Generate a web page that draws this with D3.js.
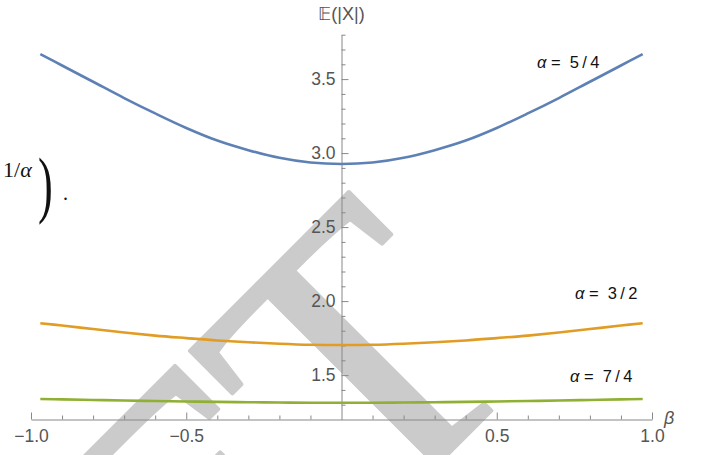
<!DOCTYPE html>
<html>
<head>
<meta charset="utf-8">
<script src="https://cdn.jsdelivr.net/npm/d3@7"></script>
<style>
  body { margin: 0; background: #fff; }
  svg { display: block; }
</style>
</head>
<body>
<div class="chart"></div>
<script>
// beta values and E(|X|)
const betas = [-0.97, -0.9, -0.8, -0.7, -0.6, -0.5, -0.4, -0.3, -0.2, -0.1, 0,
               0.1, 0.2, 0.3, 0.4, 0.5, 0.6, 0.7, 0.8, 0.9, 0.97];
const alpha54 = [3.669, 3.592, 3.482, 3.372, 3.268, 3.170, 3.085, 3.020, 2.968, 2.936, 2.926,
                 2.936, 2.968, 3.020, 3.085, 3.170, 3.268, 3.372, 3.482, 3.592, 3.669];
const alpha32 = [1.850, 1.835, 1.811, 1.788, 1.767, 1.750, 1.734, 1.722, 1.712, 1.705, 1.703,
                 1.705, 1.712, 1.722, 1.734, 1.750, 1.767, 1.788, 1.811, 1.835, 1.850];
const alpha74 = [1.339, 1.336, 1.332, 1.328, 1.325, 1.322, 1.319, 1.317, 1.315, 1.313, 1.313,
                 1.313, 1.315, 1.317, 1.319, 1.322, 1.325, 1.328, 1.332, 1.336, 1.339];
const seriesNames = ["5/4", "3/2", "7/4"];
const seriesColors = ["#5e81b5", "#e19c24", "#8fb032"];
const xMajor = [-1.0, -0.5, 0.5, 1.0];
const yMajor = [1.5, 2.0, 2.5, 3.0, 3.5];

const W = 709, H = 455;

const svg = d3.select(".chart").append("svg")
  .attr("width", W)
  .attr("height", H)
  .style("font-family", "'Liberation Sans', Arial, sans-serif");

svg.append("rect").attr("width", W).attr("height", H).attr("fill", "#fff");

// watermark behind the plot
svg.append("text")
  .attr("transform", "translate(534,368) rotate(-45)")
  .attr("text-anchor", "end")
  .attr("font-family", "'Liberation Serif', 'Times New Roman', serif")
  .attr("font-size", 390)
  .attr("fill", "#cbcbcb")
  .attr("stroke", "#cbcbcb")
  .attr("stroke-width", 4)
  .attr("stroke-linejoin", "round")
  .text("DRAFT");

// fragment of the surrounding page text
const frag = svg.append("g")
  .attr("font-family", "'Liberation Serif', 'Times New Roman', serif")
  .attr("fill", "#111");
frag.append("text").attr("x", 3).attr("y", 177).attr("font-size", 22)
  .call(t => {
    t.append("tspan").text("1/");
    t.append("tspan").attr("font-style", "italic").text("α");
  });
frag.append("text")
  .attr("transform", "translate(38,209) scale(0.6,1)")
  .attr("font-size", 74)
  .text(")");
frag.append("text").attr("x", 63).attr("y", 200).attr("font-size", 20).text(".");

const xScale = d3.scaleLinear().domain([-1, 1]).range([31, 652]);
const yScale = d3.scaleLinear().domain([1.2, 3.8]).range([419.5, 34.7]);

const f = d3.format(".1f");
const axisColor = "#888";
const labelColor = "#555";

// minor ticks
const xMinor = d3.range(-10, 11).map(i => i / 10).filter(v => Math.abs(v * 2 - Math.round(v * 2)) > 1e-6);
const yMinor = d3.range(13, 39).map(i => i / 10).filter(v => Math.abs(v * 2 - Math.round(v * 2)) > 1e-6);

svg.append("g")
  .attr("transform", `translate(0,${yScale(1.2)})`)
  .call(d3.axisBottom(xScale).tickValues(xMinor).tickSizeInner(-4).tickSizeOuter(0).tickFormat(""))
  .call(g => g.select(".domain").remove())
  .call(g => g.selectAll("line").attr("stroke", axisColor));

svg.append("g")
  .attr("transform", `translate(${xScale(0)},0)`)
  .call(d3.axisLeft(yScale).tickValues(yMinor).tickSizeInner(-4).tickSizeOuter(0).tickFormat(""))
  .call(g => g.select(".domain").remove())
  .call(g => g.selectAll("line").attr("stroke", axisColor));

svg.append("g")
  .attr("class", "axis x-axis")
  .attr("transform", `translate(0,${yScale(1.2)})`)
  .call(d3.axisBottom(xScale).tickValues(xMajor).tickSizeInner(-7).tickSizeOuter(0).tickPadding(10).tickFormat(f))
  .call(g => g.select(".domain").attr("stroke", axisColor))
  .call(g => g.selectAll("line").attr("stroke", axisColor))
  .call(g => g.selectAll("text").attr("fill", labelColor).attr("font-size", 17.5)
    .attr("font-family", "'Liberation Sans', Arial, sans-serif"));

svg.append("g")
  .attr("class", "axis y-axis")
  .attr("transform", `translate(${xScale(0)},0)`)
  .call(d3.axisLeft(yScale).tickValues(yMajor).tickSizeInner(-7).tickSizeOuter(0).tickPadding(6).tickFormat(f))
  .call(g => g.select(".domain").attr("stroke", axisColor))
  .call(g => g.selectAll("line").attr("stroke", axisColor))
  .call(g => g.selectAll("text").attr("fill", labelColor).attr("font-size", 17.5)
    .attr("font-family", "'Liberation Sans', Arial, sans-serif"));

// axis labels
svg.append("text")
  .attr("x", xScale(0))
  .attr("y", 20)
  .attr("text-anchor", "middle")
  .attr("font-size", 18)
  .attr("fill", labelColor)
  .text("𝔼(|X|)");

svg.append("text")
  .attr("x", 664)
  .attr("y", 424)
  .attr("font-size", 18)
  .attr("font-style", "italic")
  .attr("fill", labelColor)
  .text("β");

// curves
const series = [alpha54, alpha32, alpha74].map((vals, i) => ({
  name: seriesNames[i],
  color: seriesColors[i],
  values: betas.map((b, j) => ({ beta: b, e: vals[j] }))
}));

const line = d3.line()
  .x(d => xScale(d.beta))
  .y(d => yScale(d.e))
  .curve(d3.curveCatmullRom);

svg.selectAll(".curve")
  .data(series)
  .enter()
  .append("path")
  .attr("class", "curve")
  .attr("d", d => line(d.values))
  .attr("fill", "none")
  .attr("stroke", d => d.color)
  .attr("stroke-width", 2.6);

// curve labels
const labelPos = [
  { x: 537, y: 68 },
  { x: 575, y: 299 },
  { x: 570, y: 382 }
];

series.forEach((s, i) => {
  const t = svg.append("text")
    .attr("x", labelPos[i].x)
    .attr("y", labelPos[i].y)
    .attr("font-size", 16.5)
    .attr("fill", "#111")
    .attr("xml:space", "preserve");
  t.append("tspan").attr("font-style", "italic").text("α");
  t.append("tspan").text(" =  " + s.name.replace("/", "\u2009/\u2009"));
});
</script>
</body>
</html>
